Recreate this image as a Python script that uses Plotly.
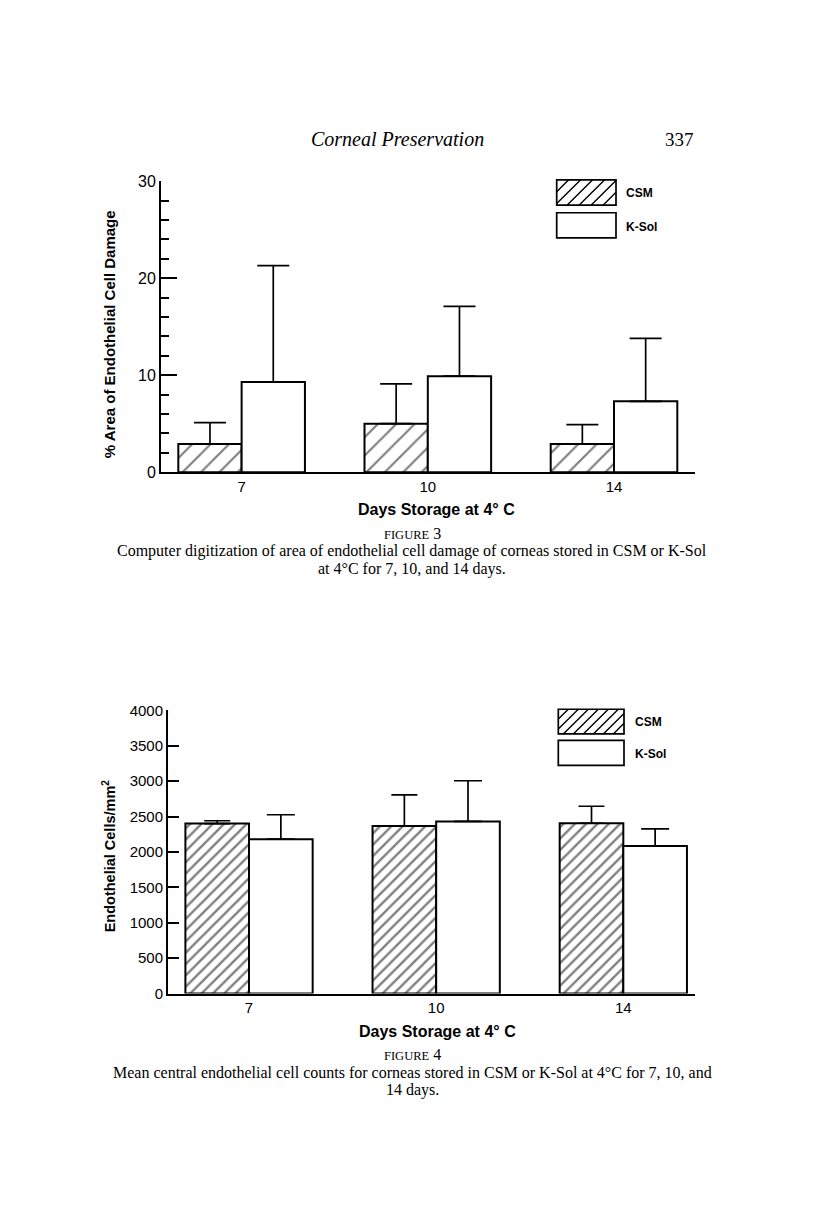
import plotly.graph_objects as go

# Page is shown with the browser's default 8px body margin, so the figure
# covers reference pixels 8..808 (x) and 8..1221 (y).
OFF = 8
W, H = 800, 1213

# ---------------- data ----------------
days = ["7", "10", "14"]
pos = [0, 1, 2]

damage_csm = [2.9, 5.0, 2.9]
damage_csm_err = [2.2, 4.1, 2.0]
damage_ksol = [9.3, 9.9, 7.3]
damage_ksol_err = [12.0, 7.2, 6.5]

cells_csm = [2400, 2365, 2405]
cells_csm_err = [40, 440, 240]
cells_ksol = [2180, 2430, 2085]
cells_ksol_err = [345, 575, 240]

series_names = ["CSM", "K-Sol"]


def px(x):
    return (x - OFF) / W


def py(y):
    return 1 - (y - OFF) / H


SANS = "Liberation Sans, Arial, sans-serif"
SERIF = "Liberation Serif, Times New Roman, serif"

fig = go.Figure()


def bar(x, y, err, xa, ya, hatched, size, solid, capw):
    marker = dict(color="white", line=dict(color="black", width=2))
    if hatched:
        marker["pattern"] = dict(shape="/", fgcolor="black", bgcolor="white",
                                 size=size, solidity=solid)
    return go.Bar(
        x=x, y=y, xaxis=xa, yaxis=ya, marker=marker, showlegend=False,
        error_y=dict(type="data", array=err, arrayminus=[0] * len(err),
                     symmetric=False, color="black", thickness=1.7, width=capw),
        hoverinfo="skip",
    )


# Figure 3
fig.add_trace(bar(pos, damage_csm, damage_csm_err, "x", "y", True, 13, 0.17, 16))
fig.add_trace(bar(pos, damage_ksol, damage_ksol_err, "x", "y", False, 13, 0.17, 16))
# Figure 4
fig.add_trace(bar(pos, cells_csm, cells_csm_err, "x2", "y2", True, 8, 0.3, 13))
fig.add_trace(bar(pos, cells_ksol, cells_ksol_err, "x2", "y2", False, 8, 0.3, 14))

axis_common = dict(showgrid=False, zeroline=False, showline=True,
                   linecolor="black", color="black")

fig.update_layout(
    width=W, height=H, autosize=False,
    margin=dict(l=0, r=0, t=0, b=0),
    paper_bgcolor="white", plot_bgcolor="white",
    barmode="group", bargap=0.32, bargroupgap=0,
    xaxis=dict(domain=[px(161), px(695)], range=[-0.433, 2.435], anchor="y",
               tickmode="array", tickvals=pos, ticktext=days, ticks="",
               linewidth=1.6, tickfont=dict(family=SANS, size=15, color="black"),
               **axis_common),
    yaxis=dict(domain=[py(470), py(174.7)], range=[0, 30], anchor="x",
               tickmode="linear", tick0=0, dtick=10, ticks="inside", ticklen=16,
               tickwidth=1.7, tickcolor="black", linewidth=2,
               minor=dict(dtick=2, ticks="inside", ticklen=8, tickwidth=1.7,
                          tickcolor="black"),
               tickfont=dict(family=SANS, size=16, color="black"),
               **axis_common),
    xaxis2=dict(domain=[px(168), px(695)], range=[-0.433, 2.383], anchor="y2",
                tickmode="array", tickvals=pos, ticktext=days, ticks="",
                linewidth=1.6, tickfont=dict(family=SANS, size=15, color="black"),
                **axis_common),
    yaxis2=dict(domain=[py(999.3), py(711.7)], range=[0, 4000], anchor="x2",
                tickmode="linear", tick0=0, dtick=500, ticks="inside", ticklen=11,
                tickwidth=1.7, tickcolor="black", linewidth=2,
                tickfont=dict(family=SANS, size=15, color="black"),
                **axis_common),
)

shapes = []
annotations = []


def hatch_path(x0, y0, x1, y1, s):
    h = y1 - y0
    segs = []
    a = x0 - h
    while a < x1:
        t0 = max(0.0, x0 - a)
        t1 = min(h, x1 - a)
        if t1 > t0:
            sx, sy = a + t0, y1 - t0
            ex, ey = a + t1, y1 - t1
            segs.append(f"M{px(sx):.5f},{py(sy):.5f} L{px(ex):.5f},{py(ey):.5f}")
        a += s
    return " ".join(segs)


def legend(boxes, labels, text_x, text_ys, s):
    for i, ((x0, y0, x1, y1), lab, ty) in enumerate(zip(boxes, labels, text_ys)):
        shapes.append(dict(type="rect", xref="paper", yref="paper",
                           x0=px(x0), x1=px(x1), y0=py(y1), y1=py(y0),
                           line=dict(color="black", width=1.7), fillcolor="white",
                           layer="above"))
        if i == 0:
            shapes.append(dict(type="path", xref="paper", yref="paper",
                               path=hatch_path(x0, y0, x1, y1, s),
                               line=dict(color="black", width=1.4), layer="above"))
        annotations.append(dict(xref="paper", yref="paper", x=px(text_x), y=py(ty),
                                xanchor="left", yanchor="middle", showarrow=False,
                                text=f"<b>{lab}</b>",
                                font=dict(family=SANS, size=12, color="black")))


legend([(556.7, 173.3, 616, 199), (556.7, 206.7, 616, 232.3)], series_names,
       624, [187, 220.7], 12)
legend([(558.3, 710.7, 624, 735.7), (558.3, 742.3, 624, 767.7)], series_names,
       633, [724, 756], 10)


def note(x, y, text, size, family=SANS, angle=0, xanchor="center"):
    annotations.append(dict(xref="paper", yref="paper", x=px(x), y=py(y),
                            xanchor=xanchor, yanchor="middle", showarrow=False,
                            text=text, textangle=angle,
                            font=dict(family=family, size=size, color="black")))


# Page header
note(397, 132, "<i>Corneal Preservation</i>", 20, SERIF)
note(679, 132, "337", 19, SERIF)

# Figure 3 texts
note(109, 330, "<b>% Area of Endothelial Cell Damage</b>", 15, SANS, -90)
note(436, 508, "<b>Days Storage at 4° C</b>", 16)
note(412, 532, "<span style='font-size:12.5px'>FIGURE</span> 3", 16, SERIF)
note(412, 550, "Computer digitization of area of endothelial cell damage of corneas stored in CSM or K-Sol", 16, SERIF)
note(412, 568, "at 4°C for 7, 10, and 14 days.", 16, SERIF)

# Figure 4 texts
note(109, 860, "<b>Endothelial Cells/mm<sup>2</sup></b>", 14.5, SANS, -90)
note(437, 1038, "<b>Days Storage at 4° C</b>", 16)
note(412, 1061, "<span style='font-size:12.5px'>FIGURE</span> 4", 16, SERIF)
note(412, 1079, "Mean central endothelial cell counts for corneas stored in CSM or K-Sol at 4°C for 7, 10, and", 16, SERIF)
note(412, 1097, "14 days.", 16, SERIF)

fig.update_layout(shapes=shapes, annotations=annotations)

fig.write_html("out.html")
